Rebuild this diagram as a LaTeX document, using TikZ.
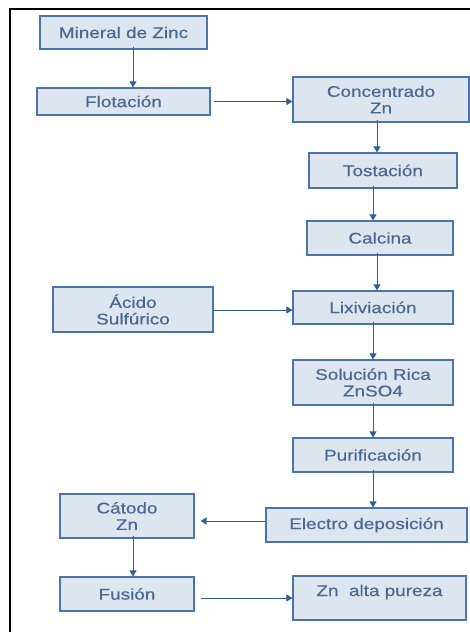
\documentclass[tikz,border=0pt]{standalone}
\usepackage{fontspec}
\setmainfont{Liberation Sans}[FakeStretch=1.22, FakeBold=0.4]
\usetikzlibrary{arrows.meta}
\definecolor{BoxFill}{RGB}{221,229,239}
\definecolor{BoxLine}{RGB}{74,116,170}
\definecolor{BoxText}{RGB}{72,104,146}
\definecolor{ArrowBlue}{RGB}{47,95,152}

\tikzset{
  paso/.style={draw=BoxLine, fill=BoxFill, line width=1.2pt, text=BoxText,
    align=center, inner sep=0pt, font=\fontsize{15.5}{16.5}\selectfont},
  flecha/.style={ArrowBlue, line width=1pt, -{Triangle[width=7pt,length=6pt]}}
}

\begin{document}
\begin{tikzpicture}[x=1pt,y=-1pt]
%\draw[help lines] (0,0) grid (470,632);
\useasboundingbox (0,0) rectangle (470,632);
\clip (0,0) rectangle (470,632);
\draw[line width=2.2pt] (10,650) -- (10,9) -- (490,9);
\node[paso, minimum width=167pt, minimum height=33pt] (mineral) at (123.5,32.5) {Mineral de Zinc};
\node[paso, minimum width=173pt, minimum height=27pt] (flotacion) at (123.5,101.5) {Flotación};
\node[paso, minimum width=176pt, minimum height=45pt] (concentrado) at (381,99.5) {Concentrado\\Zn};
\node[paso, minimum width=148pt, minimum height=35pt] (tostacion) at (383,170.5) {Tostación};
\node[paso, minimum width=146pt, minimum height=34pt] (calcina) at (380,238) {Calcina};
\node[paso, minimum width=160pt, minimum height=45pt] (acido) at (133,309.5) {Ácido\\Sulfúrico};
\node[paso, minimum width=160pt, minimum height=33pt] (lixiviacion) at (373,307.5) {Lixiviación};
\node[paso, minimum width=160pt, minimum height=45pt] (solucion) at (373,382.5) {Solución Rica\\ZnSO4};
\node[paso, minimum width=160pt, minimum height=34pt] (purificacion) at (373,455) {Purificación};
\node[paso, minimum width=201pt, minimum height=34pt] (electro) at (366.5,525) {Electro deposición};
\node[paso, minimum width=134pt, minimum height=44pt] (catodo) at (127,516) {Cátodo\\Zn};
\node[paso, minimum width=134pt, minimum height=34pt] (fusion) at (127,594) {Fusión};
\node[paso, minimum width=173pt, minimum height=44pt] (zinc) at (379.5,598) {\raisebox{6pt}[\height][\depth]{Zn\ \ alta pureza}};
\draw[flecha] ([yshift=3pt]mineral.south -| 133,0) -- (flotacion.north -| 133,0);
\draw[flecha] ([xshift=3pt]flotacion.east) -- (flotacion.east -| concentrado.west);
\draw[flecha] ([yshift=3pt]concentrado.south -| 377,0) -- (tostacion.north -| 377,0);
\draw[flecha] ([yshift=3pt]tostacion.south -| 373,0) -- (calcina.north -| 373,0);
\draw[flecha] ([yshift=3pt]calcina.south -| 377,0) -- (lixiviacion.north -| 377,0);
\draw[flecha] (acido.east |- 0,310) -- (lixiviacion.west |- 0,310);
\draw[flecha] ([yshift=3pt]lixiviacion.south -| 373,0) -- (solucion.north -| 373,0);
\draw[flecha] ([yshift=3pt]solucion.south -| 373,0) -- (purificacion.north -| 373,0);
\draw[flecha] ([yshift=3pt]purificacion.south -| 373,0) -- (electro.north -| 373,0);
\draw[flecha] (electro.west |- 0,521) -- ([xshift=6pt]catodo.east |- 0,521);
\draw[flecha] ([yshift=3pt]catodo.south -| 133,0) -- (fusion.north -| 133,0);
\draw[flecha] ([xshift=6pt]fusion.east |- 0,598) -- (zinc.west |- 0,598);
\end{tikzpicture}
\end{document}
